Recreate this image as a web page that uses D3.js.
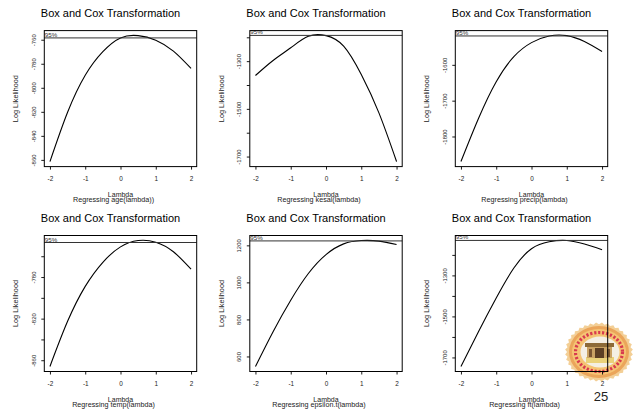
<!DOCTYPE html>
<html>
<head>
<meta charset="utf-8">
<title>Box and Cox Transformation</title>
<script src="https://d3js.org/d3.v7.min.js"></script>
<style>
  body { margin: 0; background: #fff; }
  text { font-family: "Liberation Sans", Arial, sans-serif; }
</style>
</head>
<body>
<svg id="grafico" width="635" height="411"></svg>
<script>
const lambdas = [-2, -1.5, -1, -0.5, 0, 0.5, 1, 1.5, 2];
const xTicks = [-2, -1, 0, 1, 2];

// log likelihood per regression
const llAge     = [-861.4, -820.3, -789.5, -769.9, -758.5, -756.6, -760.4, -769.5, -783.9];
const llKesal   = [-1360, -1297, -1244, -1196, -1193, -1237, -1356, -1517, -1721];
const llPrecip  = [-1870, -1749, -1647, -1577, -1538, -1519.5, -1518.5, -1535, -1563];
const llTemp    = [-866, -822.6, -789, -765.8, -751, -744.9, -746.5, -755.7, -772.5];
const llEpsilon = [546, 734, 904, 1048, 1150, 1208, 1226, 1223, 1205];
const llFt      = [-1744, -1573, -1410, -1264, -1170, -1136, -1130, -1147, -1175];

// 95% confidence level lines
const ci95 = [-758.5, -1192, -1519.4, -746.8, 1224, -1129.5];

const subtitles = ["Regressing age(lambda))", "Regressing kesal(lambda)", "Regressing precip(lambda)",
                   "Regressing temp(lambda)", "Regressing epsilon.t(lambda)", "Regressing ft(lambda)"];

// y ticks and which of them get a label
const yTicks = [
  [-860, -840, -820, -800, -780, -760],
  [-1700, -1600, -1500, -1400, -1300, -1200],
  [-1800, -1700, -1600],
  [-860, -840, -820, -800, -780, -760],
  [600, 800, 1000, 1200],
  [-1700, -1600, -1500, -1400, -1300, -1200]
];
const yLabels = [
  [-860, -840, -820, -800, -780, -760],
  [-1700, -1500, -1300],
  [-1800, -1700, -1600],
  [-860, -820, -780],
  [600, 800, 1000, 1200],
  [-1700, -1500, -1300]
];

const series = [llAge, llKesal, llPrecip, llTemp, llEpsilon, llFt];

// layout
const colLeft = [44.3, 249.8, 455.3];
const rowTop = [30.6, 235.5];
const plotW = 152.4, plotH = 136;

let svg = d3.select("#grafico");

drawLogo();
series.forEach((vals, i) => drawPanel(vals, i));

svg.append("text").attr("x", 601).attr("y", 401)
  .attr("text-anchor", "middle").attr("font-size", 13).attr("fill", "#222")
  .text("25");

function padded(ext) {
  let pad = (ext[1] - ext[0]) * 0.04;
  return [ext[0] - pad, ext[1] + pad];
}

function drawPanel(vals, i) {
  let left = colLeft[i % 3];
  let top = rowTop[Math.floor(i / 3)];
  let g = svg.append("g").attr("transform", `translate(${left},${top})`);

  let x = d3.scaleLinear().domain(padded(d3.extent(lambdas))).range([0, plotW]);
  let y = d3.scaleLinear().domain(padded(d3.extent(vals))).range([plotH, 0]);

  // x axis
  let xa = g.append("g").attr("transform", `translate(0,${plotH})`)
    .call(d3.axisBottom(x).tickValues(xTicks).tickSize(3).tickPadding(6.5).tickFormat(d => String(d)));
  xa.select(".domain").remove();
  xa.attr("font-size", 6.4);
  xa.selectAll("text").attr("fill", "#222");
  xa.selectAll("line").attr("stroke-width", 0.9);

  // y axis, labels parallel to the axis
  let ya = g.append("g")
    .call(d3.axisLeft(y).tickValues(yTicks[i]).tickSize(3)
      .tickFormat(d => yLabels[i].includes(d) ? String(d) : ""));
  ya.select(".domain").remove();
  ya.attr("font-size", 6);
  ya.selectAll("line").attr("stroke-width", 0.9);
  ya.selectAll("text")
    .attr("fill", "#222")
    .attr("transform", "rotate(-90)")
    .attr("x", 0).attr("y", -8.5).attr("dy", null)
    .attr("text-anchor", "middle");

  // curve
  let line = d3.line().x(d => x(d[0])).y(d => y(d[1])).curve(d3.curveNatural);
  g.append("path")
    .datum(lambdas.map((l, k) => [l, vals[k]]))
    .attr("d", line)
    .attr("fill", "none").attr("stroke", "#000").attr("stroke-width", 1.1);

  // 95% line
  g.append("line")
    .attr("x1", 0).attr("x2", plotW)
    .attr("y1", y(ci95[i])).attr("y2", y(ci95[i]))
    .attr("stroke", "#333").attr("stroke-width", 1);
  g.append("text")
    .attr("x", 0.5).attr("y", y(ci95[i]) - 1)
    .attr("font-size", 6.2).attr("fill", "#333")
    .text("95%");

  // box
  g.append("rect")
    .attr("width", plotW).attr("height", plotH)
    .attr("fill", "none").attr("stroke", "#000").attr("stroke-width", 1);

  // titles
  g.append("text").attr("x", plotW / 2 - 10).attr("y", -13.5)
    .attr("text-anchor", "middle").attr("font-size", 11)
    .text("Box and Cox Transformation");
  g.append("text").attr("x", plotW / 2).attr("y", plotH + 30)
    .attr("text-anchor", "middle").attr("font-size", 7).attr("fill", "#222")
    .text("Lambda");
  g.append("text").attr("x", plotW / 2 - 7).attr("y", plotH + 35.5)
    .attr("text-anchor", "middle").attr("font-size", 7.2).attr("fill", "#222")
    .text(subtitles[i]);
  g.append("text")
    .attr("transform", `translate(-26,${plotH / 2}) rotate(-90)`)
    .attr("text-anchor", "middle").attr("font-size", 7.3).attr("fill", "#222")
    .text("Log Likelihood");
}

// the university seal in the corner
function drawLogo() {
  let lg = svg.append("g").attr("transform", "translate(599,352)");
  let n = 36;
  let pts = d3.range(n * 2).map(k => {
    let a = k * Math.PI / n;
    let r = k % 2 ? 1 : 0.94;
    return [Math.cos(a) * 34 * r, Math.sin(a) * 29.5 * r];
  });
  lg.append("polygon").attr("points", pts.map(p => p.join(",")).join(" ")).attr("fill", "#f3cf96");
  lg.append("ellipse").attr("rx", 30).attr("ry", 26).attr("fill", "#eba55a");
  lg.append("ellipse").attr("rx", 27).attr("ry", 23).attr("fill", "#f5c474");
  lg.append("ellipse").attr("rx", 23.5).attr("ry", 19.5)
    .attr("fill", "none").attr("stroke", "#d83a4e").attr("stroke-width", 3.2)
    .attr("stroke-dasharray", "2.2 1.8");
  lg.append("ellipse").attr("cx", 1).attr("rx", 19.5).attr("ry", 15.5).attr("fill", "#f4efe4");
  lg.append("rect").attr("x", -13).attr("y", 5).attr("width", 28).attr("height", 6).attr("fill", "#ead27a");
  lg.append("rect").attr("x", -14).attr("y", -9).attr("width", 29).attr("height", 4).attr("fill", "#8c6a38");
  lg.append("rect").attr("x", -12).attr("y", -5).attr("width", 25).attr("height", 11).attr("fill", "#c9a264");
  lg.append("rect").attr("x", -4).attr("y", -4).attr("width", 9).attr("height", 10).attr("fill", "#5c3f24");
  lg.append("rect").attr("x", -10).attr("y", -3).attr("width", 3).attr("height", 8).attr("fill", "#7a5632");
  lg.append("rect").attr("x", 8).attr("y", -3).attr("width", 3).attr("height", 8).attr("fill", "#7a5632");
}
</script>
</body>
</html>
